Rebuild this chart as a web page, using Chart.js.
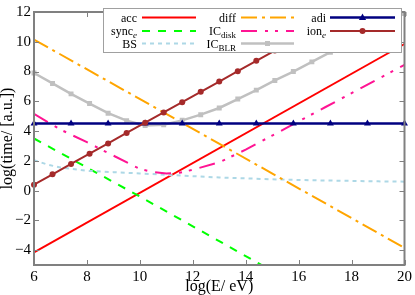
<!DOCTYPE html>
<html>
<head>
<meta charset="utf-8">
<script src="https://cdn.jsdelivr.net/npm/chart.js@4.4.0/dist/chart.umd.min.js"></script>
<style>
  html, body { margin: 0; padding: 0; background: #fff; }
</style>
</head>
<body>
<canvas id="chart" width="415" height="295"></canvas>
<script>
const xTicks = [6, 8, 10, 12, 14, 16, 18, 20];
const yTicks = [-4, -2, 0, 2, 4, 6, 8, 10, 12];

const accX = [6, 20];
const accY = [-4.15, 9.85];

const syncX = [6, 8, 10, 12, 14, 15];
const syncY = [3.5, 1.55, -0.4, -2.4, -4.4, -5.4];

const bsX = [6, 6.5, 7, 8, 9, 10, 11, 12, 13, 14, 15, 16, 17, 18, 19, 20];
const bsY = [2.05, 1.75, 1.55, 1.33, 1.24, 1.15, 1.06, 0.97, 0.88, 0.82, 0.76, 0.71, 0.68, 0.65, 0.62, 0.6];

const diffX = [6, 20];
const diffY = [10.15, -3.85];

const diskX = [6, 7, 8, 9, 10, 10.5, 11, 11.5, 12, 13, 14, 15, 16, 17, 18, 19, 20];
const diskY = [5.15, 4.1, 3.25, 2.35, 1.45, 1.25, 1.15, 1.2, 1.4, 1.9, 2.75, 3.7, 4.65, 5.6, 6.55, 7.5, 8.45];

const blrX = [6, 6.7, 7.4, 8.1, 8.8, 9.5, 10.2, 10.9, 11.6, 12.3, 13, 13.7, 14.4, 15.1, 15.8, 16.5, 17.2, 17.9, 18.6, 19.3, 20];
const blrY = [7.9, 7.2, 6.5, 5.85, 5.2, 4.7, 4.38, 4.42, 4.72, 5.1, 5.55, 6.15, 6.75, 7.4, 8.0, 8.65, 9.3, 9.95, 10.6, 11.25, 11.9];

const adiX = [6, 7.4, 8.8, 10.2, 11.6, 13, 14.4, 15.8, 17.2, 18.6, 20];
const adiY = [4.5, 4.5, 4.5, 4.5, 4.5, 4.5, 4.5, 4.5, 4.5, 4.5, 4.5];

const ionX = [6, 6.7, 7.4, 8.1, 8.8, 9.5, 10.2, 10.9, 11.6, 12.3, 13, 13.7, 14.4, 15.1, 15.8, 16.5, 17.2, 17.9, 18.6];
const ionY = [0.4, 1.09, 1.79, 2.48, 3.17, 3.87, 4.56, 5.25, 5.94, 6.64, 7.33, 8.02, 8.72, 9.41, 10.1, 10.8, 11.5, 12.2, 12.9];

const labels = ['acc', 'sync', 'BS', 'diff', 'IC', 'IC', 'adi', 'ion'];
const subs = ['', 'e', '', '', 'disk', 'BLR', '', 'e'];

const pts = (xs, ys) => xs.map((v, i) => ({x: v, y: ys[i]}));

const serif = "'Liberation Serif', 'DejaVu Serif', serif";

const series = [
  {data: pts(accX, accY), borderColor: '#ff0000', borderDash: []},
  {data: pts(syncX, syncY), borderColor: '#00ff00', borderDash: [8, 8]},
  {data: pts(bsX, bsY), borderColor: '#add8e6', borderDash: [4, 4]},
  {data: pts(diffX, diffY), borderColor: '#ffa500', borderDash: [16, 5, 3, 5]},
  {data: pts(diskX, diskY), borderColor: '#ff1493', borderDash: [16, 8, 3, 7, 3, 8]},
  {data: pts(blrX, blrY), borderColor: '#c0c0c0', borderDash: [], pointStyle: 'rect', pointRadius: 3.5, borderWidth: 2.5,
   clip: {left: 6, top: 0, right: 6, bottom: 6}},
  {data: pts(adiX, adiY), borderColor: '#000080', borderDash: [], pointStyle: 'triangle', pointRadius: 4, borderWidth: 2.5, clip: false},
  {data: pts(ionX, ionY), borderColor: '#a52a2a', borderDash: [], pointStyle: 'circle', pointRadius: 3,
   clip: {left: 6, top: 0, right: 6, bottom: 6}}
];

const datasets = series.map((s, i) => Object.assign({
  label: labels[i] + subs[i],
  showLine: true,
  borderWidth: 2,
  pointRadius: 0,
  pointBorderWidth: 0,
  backgroundColor: s.borderColor,
  pointBackgroundColor: s.borderColor,
  order: 8 - i
}, s));

// legend columns: text right edge, line start, line end
const legCols = [[33.5, 38.5, 92.5], [132.5, 137.5, 190.5], [222.5, 226.5, 291.5]];
const legRows = [9, 22.5, 35];

const frame = {
  id: 'frame',
  afterDraw(chart) {
    const {ctx, chartArea: a, scales: {x, y}} = chart;
    ctx.save();
    ctx.strokeStyle = '#808080';
    ctx.lineWidth = 1;
    ctx.beginPath();
    xTicks.forEach(v => {
      const px = Math.round(x.getPixelForValue(v)) + 0.5;
      ctx.moveTo(px, a.bottom); ctx.lineTo(px, a.bottom - 5);
      ctx.moveTo(px, a.top); ctx.lineTo(px, a.top + 5);
    });
    yTicks.forEach(v => {
      const py = Math.round(y.getPixelForValue(v)) + 0.5;
      ctx.moveTo(a.left, py); ctx.lineTo(a.left + 5, py);
      ctx.moveTo(a.right, py); ctx.lineTo(a.right - 5, py);
    });
    ctx.stroke();
    ctx.lineWidth = 2;
    ctx.strokeRect(a.left, a.top, a.right - a.left, a.bottom - a.top);

    // legend
    const bx = 103.5, by = 8.5, bw = 298, bh = 44;
    ctx.fillStyle = '#fff';
    ctx.fillRect(bx, by, bw, bh);
    ctx.strokeStyle = '#a0a0a0';
    ctx.lineWidth = 1;
    ctx.strokeRect(bx, by, bw, bh);

    chart.data.datasets.forEach((ds, i) => {
      const col = legCols[Math.floor(i / 3)];
      const cy = by + legRows[i % 3];
      ctx.save();
      ctx.strokeStyle = ds.borderColor;
      ctx.lineWidth = ds.borderWidth;
      ctx.setLineDash(ds.borderDash);
      ctx.beginPath();
      ctx.moveTo(bx + col[1], cy);
      ctx.lineTo(bx + col[2], cy);
      ctx.stroke();
      ctx.restore();
      if (ds.pointStyle) {
        const cx = bx + (col[1] + col[2]) / 2;
        ctx.fillStyle = ds.borderColor;
        ctx.beginPath();
        if (ds.pointStyle === 'rect') {
          ctx.rect(cx - 2.5, cy - 2.5, 5, 5);
        } else if (ds.pointStyle === 'triangle') {
          ctx.moveTo(cx, cy - 4); ctx.lineTo(cx + 3.6, cy + 2.5); ctx.lineTo(cx - 3.6, cy + 2.5); ctx.closePath();
        } else {
          ctx.arc(cx, cy, 3, 0, Math.PI * 2);
        }
        ctx.fill();
      }
      // text with subscript
      const main = labels[i], sub = subs[i];
      ctx.fillStyle = '#000';
      ctx.textBaseline = 'alphabetic';
      ctx.font = '12px ' + serif;
      const mw = ctx.measureText(main).width;
      const subFont = (sub === 'e' ? 'italic ' : '') + '9px ' + serif;
      ctx.font = subFont;
      const sw = sub ? ctx.measureText(sub).width : 0;
      const sx = bx + col[0] - mw - sw;
      ctx.font = '12px ' + serif;
      ctx.fillText(main, sx, cy + 4);
      if (sub) {
        ctx.font = subFont;
        ctx.fillText(sub, sx + mw, cy + 7);
      }
    });
    ctx.restore();
  }
};

const minus = v => (v < 0 ? '\u2212' + Math.abs(v) : '' + v);

new Chart(document.getElementById('chart'), {
  type: 'scatter',
  data: {datasets: datasets},
  options: {
    responsive: false,
    animation: false,
    devicePixelRatio: 1,
    layout: {padding: {top: 5, right: 9, left: 0, bottom: 0}},
    plugins: {legend: {display: false}, tooltip: {enabled: false}},
    scales: {
      x: {
        type: 'linear', min: 6, max: 20,
        grid: {display: false, drawTicks: false},
        border: {display: false},
        afterBuildTicks: s => { s.ticks = xTicks.map(v => ({value: v})); },
        afterFit: s => { s.height = 30; },
        ticks: {color: '#000', padding: 3, font: {family: serif, size: 15}, callback: minus, maxRotation: 0},
        title: {display: true, text: 'log(E/ eV)', color: '#000', padding: 0, font: {family: serif, size: 16, lineHeight: 1}}
      },
      y: {
        type: 'linear', min: -5, max: 12,
        grid: {display: false, drawTicks: false},
        border: {display: false},
        afterBuildTicks: s => { s.ticks = yTicks.map(v => ({value: v})); },
        afterFit: s => { s.width = 34; },
        ticks: {color: '#000', padding: 3, font: {family: serif, size: 15}, callback: minus},
        title: {display: true, text: 'log(time/ [a.u.])', color: '#000', padding: 0, font: {family: serif, size: 16, lineHeight: 1}}
      }
    }
  },
  plugins: [frame]
});
</script>
</body>
</html>
